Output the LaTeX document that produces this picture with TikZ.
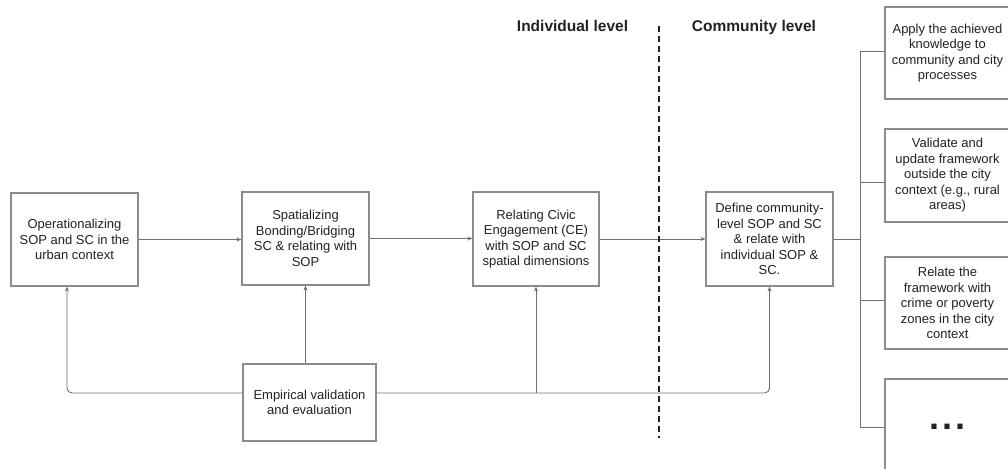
\documentclass[tikz,border=0pt]{standalone}
\usepackage{fontspec}
\setmainfont{Liberation Sans}
\usetikzlibrary{arrows.meta}
\definecolor{edge}{HTML}{8C8C8C}
\definecolor{wire}{HTML}{707070}
\definecolor{ink}{HTML}{222222}

\begin{document}
\begin{tikzpicture}[x=1pt,y=-1pt,
  box/.style={draw=edge, line width=1.1pt, fill=white, text=ink, align=center,
    font=\fontsize{13}{15.5}\selectfont, inner sep=0pt},
  link/.style={draw=wire, line width=0.9pt},
  tip/.style={-{Stealth[length=5pt,width=4pt]}},
  heading/.style={text=ink, font=\fontsize{15.5}{18}\selectfont\bfseries, anchor=base}]

\useasboundingbox (0,0) rectangle (1008,468);

% main chain of steps
\node[box, minimum width=127pt, minimum height=93pt] (B1) at (74.5,239.5)
  {Operationalizing\\SOP and SC in the\\urban context};
\node[box, minimum width=127pt, minimum height=93pt] (B2) at (305.5,238.5)
  {Spatializing\\Bonding/Bridging\\SC \& relating with\\SOP};
\node[box, minimum width=126pt, minimum height=94pt] (B3) at (536,239)
  {Relating Civic\\Engagement (CE)\\with SOP and SC\\spatial dimensions};
\node[box, minimum width=127pt, minimum height=94pt] (B4) at (769.5,239)
  {Define community-\\level SOP and SC\\\& relate with\\individual SOP \&\\SC.};
\node[box, minimum width=133pt, minimum height=77pt] (E) at (309.5,402.5)
  {Empirical validation\\and evaluation};

% outcome boxes on the right
\node[box, minimum width=125pt, minimum height=92pt] (R1) at (947.5,53)
  {Apply the achieved\\knowledge to\\community and city\\processes};
\node[box, minimum width=125pt, minimum height=93pt] (R2) at (947.5,175.5)
  {Validate and\\update framework\\outside the city\\context (e.g., rural\\areas)};
\node[box, minimum width=125pt, minimum height=92pt] (R3) at (947.5,303)
  {Relate the\\framework with\\crime or poverty\\zones in the city\\context};
\node[box, minimum width=125pt, minimum height=96pt] (R4) at (947.5,427)
  {\fontsize{36}{36}\selectfont\bfseries .\kern3pt.\kern3pt.};

% level headings
\node[heading] (hInd) at (572.5,32) {Individual level};
\node[heading] (hCom) at (754,32) {Community level};

% forward arrows
\draw[link,tip] (B1.east) -- (B1.east -| B2.west);
\draw[link,tip] (B2.east) -- (B2.east -| B3.west);
\draw[link,tip] (B3.east) -- (B3.east -| B4.west);

% feedback from empirical validation
\coordinate (bus) at (0,393);
\coordinate (fx) at (67,0);
\draw[link,tip,rounded corners=5pt] (E.west |- bus) -| (B1.south -| fx);
\draw[link,tip] (E.north -| B2.south) -- (B2.south);
\draw[link,tip,rounded corners=5pt] (E.east |- bus) -| (B4.south);
\draw[link,tip] (B3.south |- bus) -- (B3.south);

% bracket to outcomes
\coordinate (tr) at (860,239);
\coordinate (t1) at (860,51);
\coordinate (t2) at (860,182);
\coordinate (t3) at (860,300);
\coordinate (t4) at (860,427);
\draw[link] (B4.east) -- (tr);
\draw[link] (t1) -- (t4);
\draw[link] (t1) -- (R1.west |- t1);
\draw[link] (t2) -- (R2.west |- t2);
\draw[link] (t3) -- (R3.west |- t3);
\draw[link] (t4) -- (R4.west |- t4);

% divider between the levels
\coordinate (dTop) at (659,26);
\coordinate (dBot) at (659,438);
\draw[ink, line width=2.6pt, dash pattern=on 6pt off 4pt] (dTop) -- (dBot);

\end{tikzpicture}
\end{document}
